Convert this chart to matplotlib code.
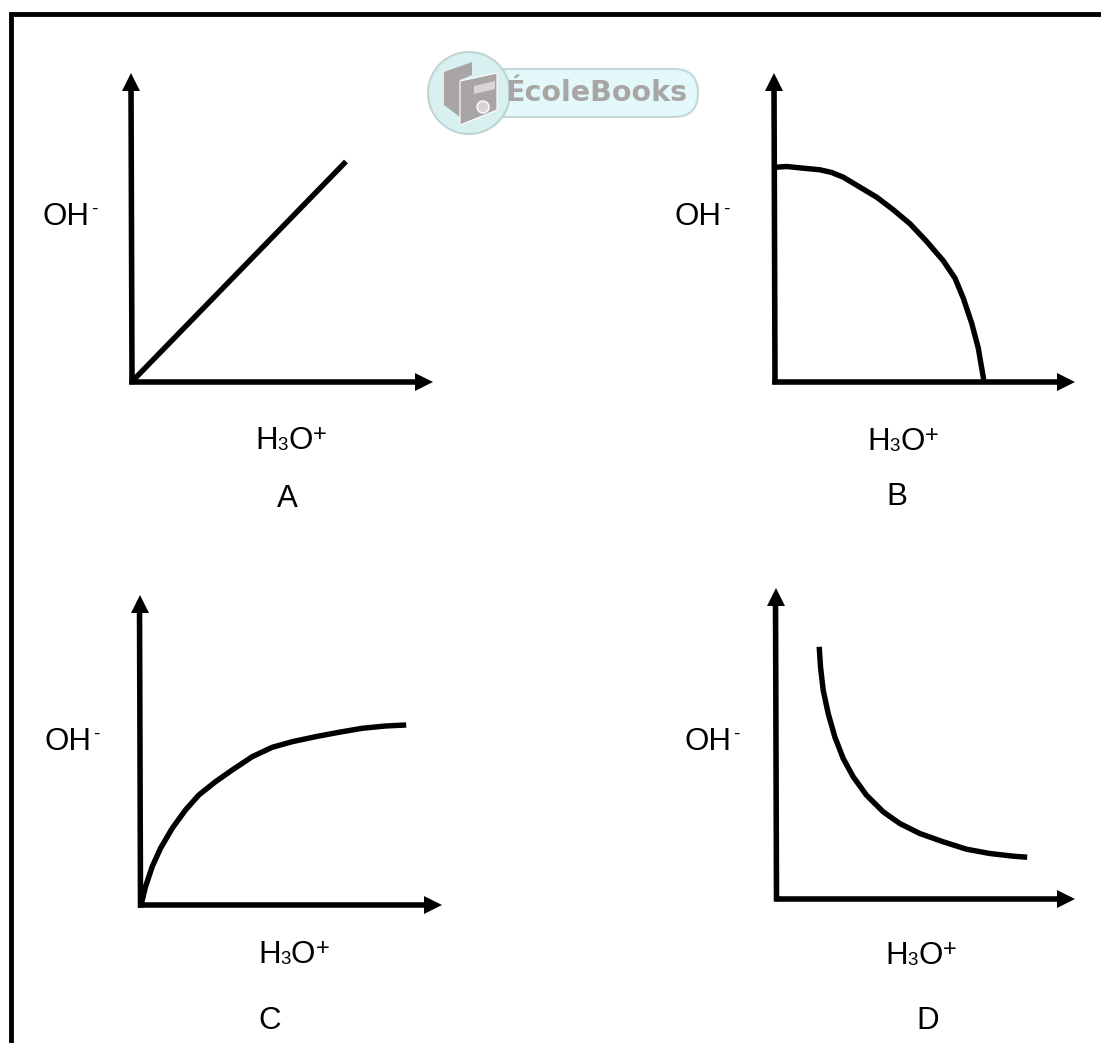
import matplotlib
matplotlib.use("Agg")
import matplotlib.pyplot as plt
from matplotlib.patches import Circle, FancyBboxPatch, Polygon

W, H = 1101, 1043

# curves: pixels right of / above each panel's origin
a_x = [0, 214]
a_y = [0, 220]
b_x = [1.7, 11.7, 28.3, 45, 56.7, 68.3, 85, 101.7, 118.3, 135, 151.7, 168.3, 180, 188.3, 196.7, 203.3, 209]
b_y = [214.3, 215, 213.3, 211.7, 209, 204.3, 194.3, 184.3, 171.7, 157.7, 140, 120.7, 103.3, 83.3, 58.3, 33.3, 0]
c_x = [0, 1, 5, 11.7, 20, 31.7, 45, 58.3, 75, 91.7, 111.7, 131.7, 151.7, 175, 198.3, 221.7, 245, 265.7]
c_y = [0, 1.7, 18.3, 38.3, 56.7, 76.7, 95, 110, 123.3, 135, 148.3, 157.7, 163.3, 168.3, 172.7, 176.7, 179, 180]
d_x = [42.7, 44, 46.7, 51.7, 58.3, 66.7, 76.7, 90, 106.7, 123.3, 143.3, 166.7, 190, 213.3, 236.7, 250.7]
d_y = [251.7, 231.7, 208.3, 185, 161.7, 140, 121.7, 103.3, 86.7, 75, 65, 56.7, 49.3, 45, 42.3, 41.3]

panel_names = ["A", "B", "C", "D"]
curves = [(a_x, a_y), (b_x, b_y), (c_x, c_y), (d_x, d_y)]
# origin x, origin y, axis width, axis height (pixels)
panel_boxes = [(132, 381.5, 292, 300), (775, 381.5, 291, 300),
               (140.5, 905, 292.5, 301), (776.5, 898.5, 289.5, 301.5)]
ylabel_pos = [(44, 225), (676, 225), (46, 750), (686, 750)]
xlabel_pos = [(257, 449), (869, 450), (260, 963), (887, 964)]
name_pos = [(287, 507), (897, 505), (270, 1029), (928, 1029)]

plt.rcParams["font.family"] = ["Liberation Sans", "DejaVu Sans"]
fig = plt.figure(figsize=(W / 100, H / 100), dpi=100)
bg = fig.add_axes([0, 0, 1, 1])
bg.set_xlim(0, W)
bg.set_ylim(H, 0)
bg.axis("off")

# page border, only left and top are in the crop
bg.plot([10.5, 10.5, W], [H, 13.5, 13.5], color="black", lw=3.5, solid_joinstyle="miter")

for i in range(4):
    x0, y0, w, h = panel_boxes[i]
    ax = fig.add_axes([x0 / W, (H - y0) / H, w / W, h / H])
    ax.patch.set_alpha(0)
    ax.set_xlim(0, w)
    ax.set_ylim(0, h)
    ax.set_xticks([])
    ax.set_yticks([])
    for s in ["top", "right", "left"]:
        ax.spines[s].set_visible(False)
    ax.spines["bottom"].set_linewidth(4)
    # the hand drawn y axis leans a little to the left
    ax.plot([0, -1], [0, h], color="black", lw=4, clip_on=False, solid_capstyle="projecting")
    ax.plot(curves[i][0], curves[i][1], color="black", lw=3.9, clip_on=False,
            solid_capstyle="butt", solid_joinstyle="round")
    ax.plot(w, 0, marker=">", ms=13, color="black", mew=0, clip_on=False)
    ax.plot(-1, h, marker="^", ms=13, color="black", mew=0, clip_on=False)

    lx, ly = ylabel_pos[i]
    bg.text(lx - 1.5, ly, "OH", fontsize=22.5, va="baseline", ha="left")
    bg.text(lx + 47.5, ly - 11, "-", fontsize=14, va="baseline", ha="left")
    lx, ly = xlabel_pos[i]
    bg.text(lx - 2, ly, "H", fontsize=22.5, va="baseline", ha="left")
    bg.text(lx + 20, ly + 1, "3", fontsize=13.5, va="baseline", ha="left")
    bg.text(lx + 31, ly, "O", fontsize=22.5, va="baseline", ha="left")
    bg.text(lx + 56, ly - 8, "+", fontsize=17, va="baseline", ha="left")
    bg.text(name_pos[i][0], name_pos[i][1], panel_names[i], fontsize=22.5, ha="center", va="baseline")

# watermark logo
teal = "#e3f8f8"
grey = "#a9a5a5"
bg.add_patch(FancyBboxPatch((470, 69), 228, 48, boxstyle="round,pad=0,rounding_size=24",
                            fc=teal, ec="#c4d8d8", lw=1.5, zorder=3))
bg.add_patch(Circle((469, 93), 41, fc="#d8f0f0", ec="#c0d4d4", lw=1.5, zorder=4))
bg.add_patch(Polygon([[444, 72], [472, 62], [472, 75], [460, 80], [460, 117], [444, 105]], fc=grey, zorder=5))
bg.add_patch(Polygon([[460, 81], [497, 73], [497, 110], [460, 125]], fc=grey, ec="white", lw=0.8, zorder=6))
bg.add_patch(Polygon([[474, 86], [495, 81], [495, 89], [474, 94]], fc="#d9d5d5", zorder=7))
bg.add_patch(Circle((483, 107), 6, fc="#d9d5d5", ec="white", lw=1, zorder=7))
bg.text(505, 93, "ÉcoleBooks", fontsize=20.5, fontweight="bold", color=grey,
        family=["DejaVu Sans"], va="center", ha="left", zorder=8)

fig.savefig("out.png", dpi=100)
